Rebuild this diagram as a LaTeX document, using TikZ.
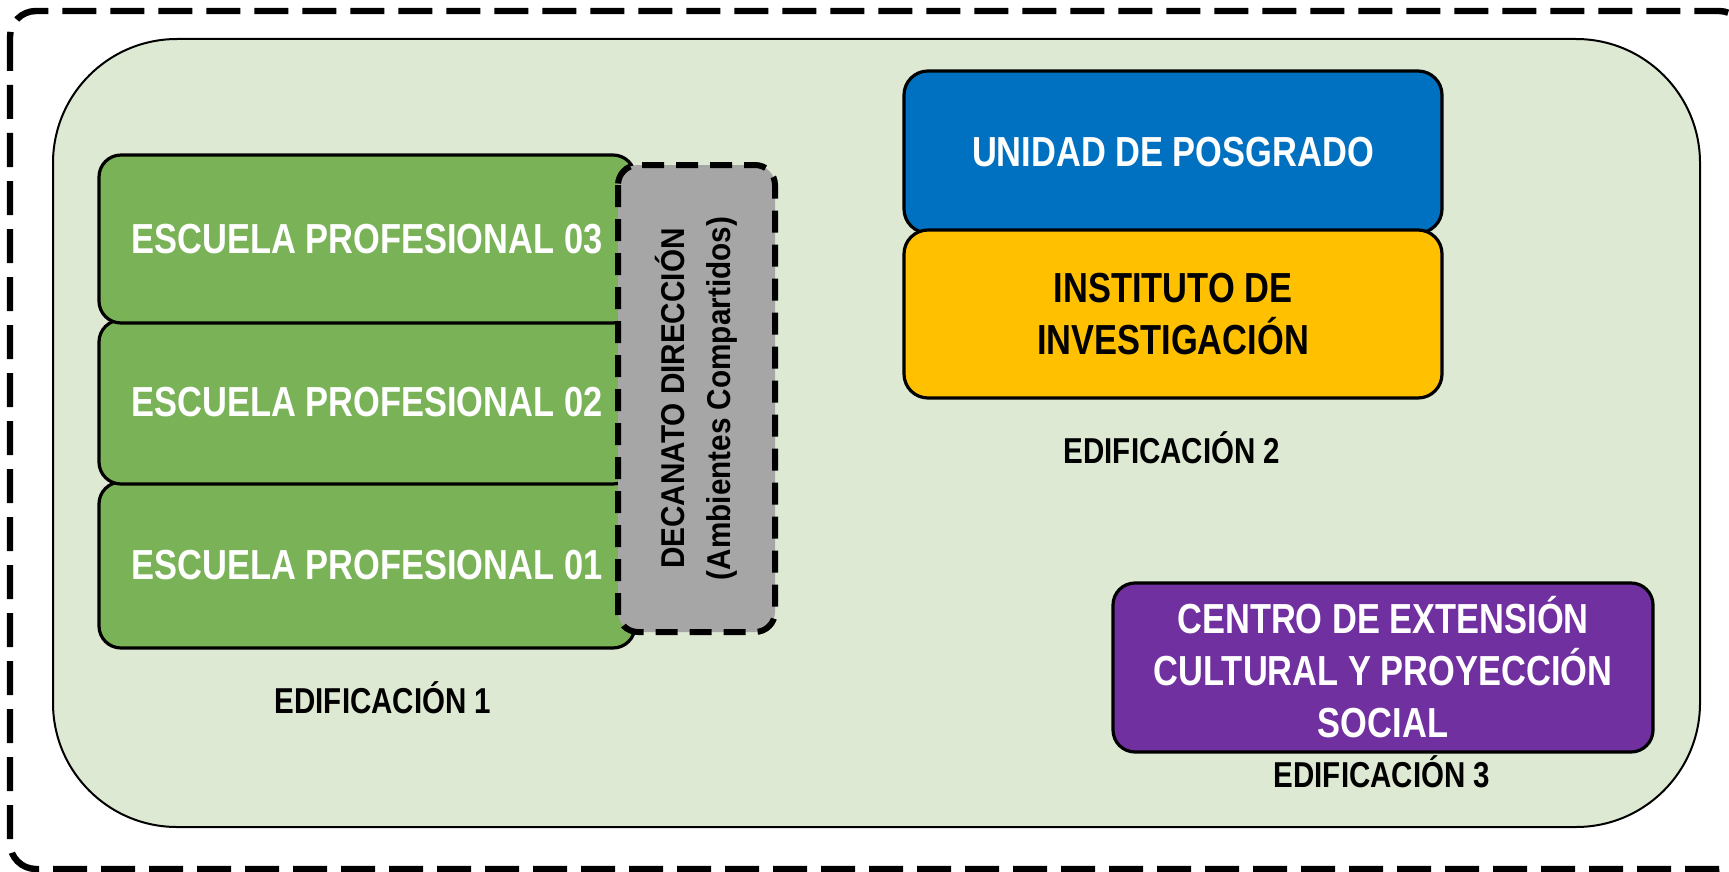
\documentclass[tikz,border=0pt]{standalone}
\usepackage{fontspec}
\setmainfont{Liberation Sans}
\newfontfamily\narrowfont[FakeStretch=0.82]{Liberation Sans}
\newfontfamily\semifont[FakeStretch=0.9]{Liberation Sans}
\definecolor{bggreen}{HTML}{DEE9D3}
\definecolor{epgreen}{HTML}{7AB257}
\definecolor{decgray}{HTML}{A6A6A6}
\definecolor{posblue}{HTML}{0070C0}
\definecolor{invyellow}{HTML}{FFC000}
\definecolor{extpurple}{HTML}{7030A0}
\begin{document}
\begin{tikzpicture}[x=0.5pt,y=-0.5pt,
  box/.style={draw=black,line width=1.6pt,rounded corners=11pt,align=center,inner sep=0pt,
    font=\narrowfont\bfseries\fontsize{21}{26}\selectfont},
  school/.style={box,fill=epgreen,text=white,minimum width=268pt},
  building/.style={font=\narrowfont\bfseries\fontsize{18}{21}\selectfont,anchor=base}]
\useasboundingbox (0,0) rectangle (1729,872);
\draw[line width=3.2pt,dash pattern=on 17pt off 7pt,rounded corners=13pt] (10,11) rectangle (1745,869);
\draw[fill=bggreen,line width=1pt,rounded corners=62pt] (53,39) rectangle (1700,827);

\node[school,minimum height=83pt] (ep1) at (367,565) {ESCUELA PROFESIONAL 01};
\node[school,minimum height=82pt] (ep2) at (367,402) {ESCUELA PROFESIONAL 02};
\node[school,minimum height=84pt] (ep3) at (367,239) {ESCUELA PROFESIONAL 03};
\node[box,fill=decgray,rotate=90,minimum width=233.5pt,minimum height=78.5pt,
  line width=3pt,dash pattern=on 11pt off 6pt,rounded corners=10pt,
  font=\semifont\bfseries\fontsize{16.5}{23}\selectfont] (dec) at (696.5,398.5)
  {DECANATO DIRECCIÓN\\(Ambientes Compartidos)};
\node[building] (ed1) at (383,713) {EDIFICACIÓN 1};

\node[box,fill=posblue,text=white,minimum width=269pt,minimum height=81pt,rounded corners=12pt] (pos) at (1173,152) {UNIDAD DE POSGRADO};
\node[box,fill=invyellow,minimum width=269pt,minimum height=84pt,rounded corners=12pt] (inv) at (1173,314) {INSTITUTO DE\\INVESTIGACIÓN};
\node[building] (ed2) at (1172,463) {EDIFICACIÓN 2};

\node[box,fill=extpurple,text=white,minimum width=270pt,minimum height=84.5pt] (ext) at (1383,667.5) {CENTRO DE EXTENSIÓN\\CULTURAL Y PROYECCIÓN\\SOCIAL};
\node[building] (ed3) at (1382,787) {EDIFICACIÓN 3};
\end{tikzpicture}
\end{document}
